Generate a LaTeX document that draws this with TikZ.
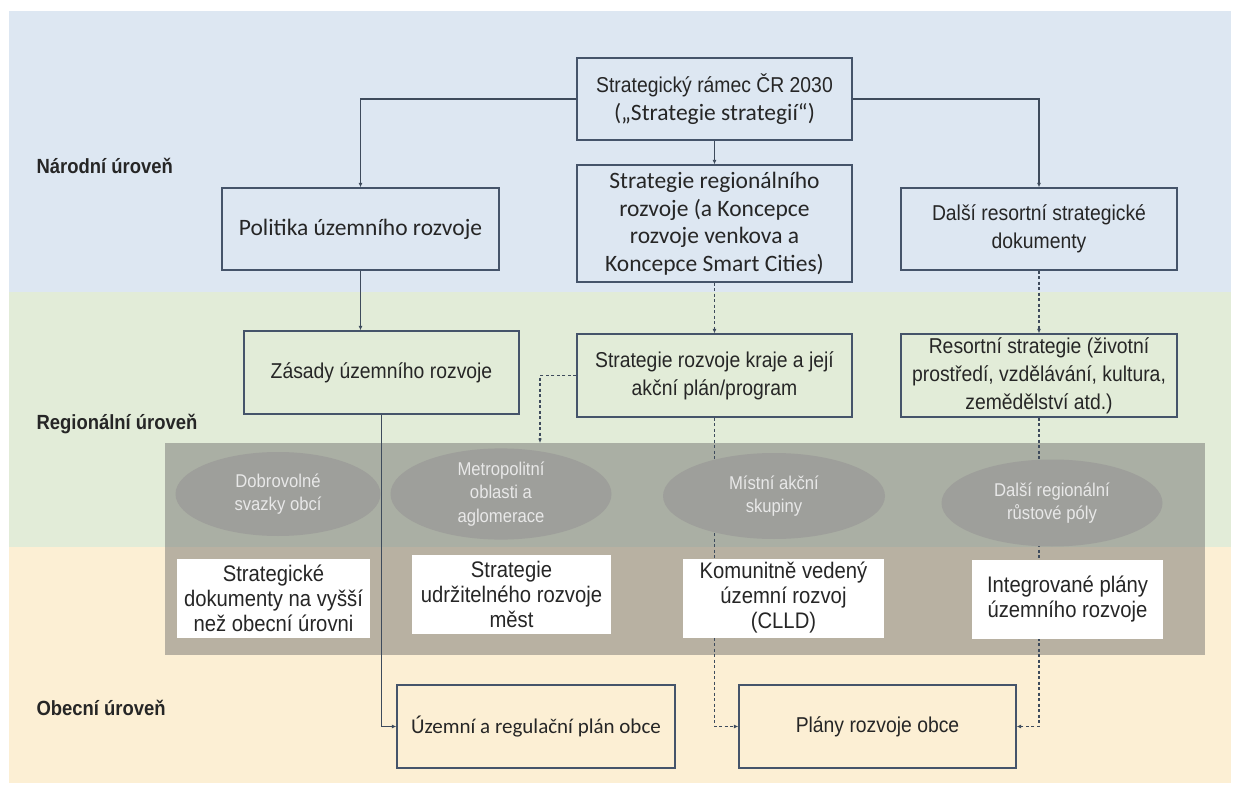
\documentclass[tikz,border=0pt]{standalone}
\usepackage{fontspec}
\setmainfont{Carlito}
\newfontfamily\narrow[FakeStretch=0.9]{Liberation Sans}
\usetikzlibrary{arrows.meta,shapes.geometric}
\definecolor{bgblue}{HTML}{DDE7F2}
\definecolor{bggreen}{HTML}{E2ECD8}
\definecolor{bgyellow}{HTML}{FCEFD4}
\definecolor{boxc}{HTML}{45546A}
\definecolor{linec}{HTML}{3E4B5C}
\definecolor{txt}{HTML}{262626}
\definecolor{ellc}{HTML}{9E9F9B}
\definecolor{elltxt}{HTML}{E8E8E8}
\tikzset{
  x=1bp, y=-1bp,
  box/.style={draw=boxc, line width=1.3bp, minimum width=275bp, minimum height=82bp,
    align=center, text=txt, inner sep=2bp},
  cal/.style={font=\fontsize{23.5bp}{27.5bp}\selectfont},
  nar/.style={font=\narrow\fontsize{21.5bp}{28bp}\selectfont},
  ell/.style={ellipse, fill=ellc, minimum width=205bp, minimum height=84bp, inner sep=0pt,
    align=center, text=elltxt, font=\narrow\fontsize{18.5bp}{23.5bp}\selectfont},
  wbox/.style={fill=white, minimum height=79bp, align=center, text=txt, inner sep=0pt,
    font=\narrow\fontsize{22.5bp}{25bp}\selectfont},
  lvl/.style={anchor=west, text=txt, font=\narrow\bfseries\fontsize{20.5bp}{22bp}\selectfont},
  conn/.style={draw=linec, line width=1.2bp, -{Latex[length=4.5bp,width=4bp]}},
  dconn/.style={conn, dash pattern=on 3bp off 2.5bp},
}
\begin{document}
\begin{tikzpicture}
\useasboundingbox (0,0) rectangle (1239,793);
% backgrounds
\fill[bgblue] (9,11) rectangle (1231,292);
\fill[bggreen] (9,292) rectangle (1231,547);
\fill[bgyellow] (9,547) rectangle (1231,783);
% gray region
\node[fill=black!60, fill opacity=0.45, minimum width=1040bp, minimum height=212bp, inner sep=0pt] (grp) at (685,549) {};
% level labels
\node[lvl] (ln) at (33,166) {Národní úroveň};
\node[lvl] (lr) at (33,424) {Regionální úroveň};
\node[lvl] (lo) at (33,708) {Obecní úroveň};
% national boxes
\node[box,cal] (top) at (714.5,99) {{\narrow\fontsize{21.5bp}{27.5bp}\selectfont Strategický rámec ČR 2030}\\(„Strategie strategií“)};
\node[box,cal, minimum width=277bp] (pol) at (360.5,229) {Politika územního rozvoje};
\node[box,cal, minimum height=117bp] (srr) at (714.5,223.5) {Strategie regionálního\\rozvoje (a Koncepce\\rozvoje venkova a\\Koncepce Smart Cities)};
\node[box,nar, minimum width=276bp] (dal) at (1039,229) {Další resortní strategické\\dokumenty};
% regional boxes
\node[box,nar, minimum height=83bp] (zas) at (381.5,372.5) {Zásady územního rozvoje};
\node[box,nar, minimum height=83bp] (srk) at (714.5,375.5) {Strategie rozvoje kraje a její\\akční plán/program};
\node[box,nar, minimum height=83bp, minimum width=276bp] (res) at (1039,375.5) {Resortní strategie (životní\\prostředí, vzdělávání, kultura,\\zemědělství atd.)};
% municipal boxes
\node[box, font=\fontsize{21bp}{25bp}\selectfont, minimum width=278bp, minimum height=83bp] (uzp) at (536,726.5) {Územní a regulační plán obce};
\node[box,nar, minimum width=277bp, minimum height=83bp] (plr) at (877.5,726.5) {Plány rozvoje obce};
% connectors
\coordinate (m) at (540,443);
\draw[conn] (top.west) -| (pol.north);
\draw[conn] (top.east) -| (dal.north);
\draw[conn] (top.south) -- (srr.north);
\draw[conn] (pol.south) -- (pol.south |- zas.north);
\draw[dconn] (srr.south) -- (srk.north);
\draw[dconn] (dal.south) -- (res.north);
\draw[dconn] (srk.west) -| (m);
\draw[conn] (zas.south) |- (uzp.west);
\draw[dconn] (srk.south) |- (plr.west);
\draw[dconn] (res.south) |- (plr.east);
% ellipses (cover the connectors)
\node[ell] (e1) at (278,494) {Dobrovolné\\svazky obcí};
\node[ell, minimum width=221bp] (e2) at (501,494) {Metropolitní\\oblasti a\\aglomerace};
\node[ell, minimum width=222bp, minimum height=86bp] (e3) at (774,496) {Místní akční\\skupiny};
\node[ell, minimum width=221bp, minimum height=87bp] (e4) at (1052,503) {Další regionální\\růstové póly};
% white boxes
\node[wbox, minimum width=193bp] (w1) at (273.5,598) {Strategické\\dokumenty na vyšší\\než obecní úrovni};
\node[wbox, minimum width=199bp] (w2) at (511.5,594) {Strategie\\udržitelného rozvoje\\měst};
\node[wbox, minimum width=201bp] (w3) at (783.5,598) {Komunitně vedený\\územní rozvoj\\(CLLD)};
\node[wbox, minimum width=191bp] (w4) at (1067.5,599) {Integrované plány\\územního rozvoje};
\end{tikzpicture}
\end{document}
